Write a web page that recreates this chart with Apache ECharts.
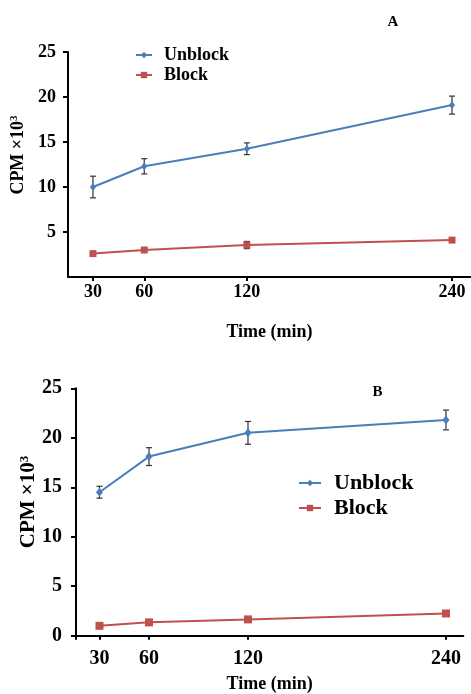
<!DOCTYPE html>
<html>
<head>
<meta charset="utf-8">
<script src="https://cdn.jsdelivr.net/npm/echarts@6/dist/echarts.min.js"></script>
<style>
  html, body { margin: 0; padding: 0; background: #fff; }
  #chart { width: 471px; height: 694px; }
</style>
</head>
<body>
<div id="chart"></div>
<script>
// Sampling times (min)
const times = [30, 60, 120, 240];
const timeTicks = [30, 60, 120, 240];

// Panel A: mean CPM (x10^3) and error
const unblockA = [10.0, 12.3, 14.25, 19.1];
const unblockAErr = [1.2, 0.85, 0.65, 1.0];
const blockA = [2.6, 3.0, 3.55, 4.1];
const blockAErr = [0.1, 0.15, 0.4, 0.15];
const yTicksA = [5, 10, 15, 20, 25];

// Panel B: mean CPM (x10^3) and error
const unblockB = [14.5, 18.1, 20.5, 21.8];
const unblockBErr = [0.6, 0.9, 1.15, 1.0];
const blockB = [1.0, 1.35, 1.65, 2.25];
const blockBErr = [0.15, 0.2, 0.15, 0.15];
const yTicksB = [0, 5, 10, 15, 20, 25];

const serif = '"Liberation Serif", "Times New Roman", serif';
const blue = '#4a7ebb';
const red = '#c0504d';

function pairs(vals) { return times.map((t, i) => [t, vals[i]]); }
function errRanges(vals, errs) { return times.map((t, i) => [t, vals[i] - errs[i], vals[i] + errs[i]]); }

function renderErr(params, api) {
  const x = api.value(0);
  const lo = api.coord([x, api.value(1)]);
  const hi = api.coord([x, api.value(2)]);
  const cap = 3;
  const st = { stroke: '#333', lineWidth: 1.2 };
  return {
    type: 'group',
    children: [
      { type: 'line', shape: { x1: hi[0], y1: hi[1], x2: lo[0], y2: lo[1] }, style: st },
      { type: 'line', shape: { x1: hi[0] - cap, y1: hi[1], x2: hi[0] + cap, y2: hi[1] }, style: st },
      { type: 'line', shape: { x1: lo[0] - cap, y1: lo[1], x2: lo[0] + cap, y2: lo[1] }, style: st }
    ]
  };
}

function xAxisCfg(idx, min, max, fontSize, margin, nameGap) {
  return {
    type: 'value', gridIndex: idx, min: min, max: max,
    name: 'Time (min)', nameLocation: 'middle', nameGap: nameGap,
    nameTextStyle: { fontFamily: serif, fontWeight: 'bold', fontSize: 18, color: '#000' },
    axisLine: { show: true, lineStyle: { color: '#000', width: 2 } },
    axisTick: { show: true, customValues: timeTicks, length: 4, lineStyle: { color: '#000', width: 2 } },
    axisLabel: { customValues: timeTicks, margin: margin, fontFamily: serif, fontWeight: 'bold', fontSize: fontSize, color: '#000' },
    splitLine: { show: false }
  };
}

function yAxisCfg(idx, min, ticks, fontSize, margin) {
  return {
    type: 'value', gridIndex: idx, min: min, max: 25,
    axisLine: { show: true, lineStyle: { color: '#000', width: 2 } },
    axisTick: { show: true, customValues: ticks, length: 5, lineStyle: { color: '#000', width: 2 } },
    axisLabel: { customValues: ticks, margin: margin, fontFamily: serif, fontWeight: 'bold', fontSize: fontSize, color: '#000' },
    splitLine: { show: false }
  };
}

function lineSeries(name, vals, idx, color, symbol, size) {
  return {
    type: 'line', name: name, data: pairs(vals), xAxisIndex: idx, yAxisIndex: idx,
    symbol: symbol, symbolSize: size,
    lineStyle: { color: color, width: 2 },
    itemStyle: { color: color },
    z: 2
  };
}

// Error bars sit underneath the markers
function errSeries(vals, errs, idx) {
  return {
    type: 'custom', data: errRanges(vals, errs), xAxisIndex: idx, yAxisIndex: idx,
    encode: { x: 0, y: [1, 2] }, renderItem: renderErr, z: 1, silent: true
  };
}

function legendCfg(left, top, fontSize, lineHeight, itemWidth, pad) {
  return {
    orient: 'vertical', left: left, top: top, itemGap: 0,
    itemWidth: itemWidth, itemHeight: 8, selectedMode: false,
    data: ['Unblock', 'Block'],
    textStyle: { fontFamily: serif, fontWeight: 'bold', fontSize: fontSize, lineHeight: lineHeight, color: '#000', padding: [0, 0, 0, pad] }
  };
}

function yTitle(x, y, size, supSize) {
  return {
    type: 'text', x: x, y: y, rotation: Math.PI / 2,
    style: {
      text: 'CPM \u00d710{s|3}',
      fontFamily: serif, fontWeight: 'bold', fontSize: size, fill: '#000',
      align: 'center', verticalAlign: 'middle',
      rich: { s: { fontFamily: serif, fontWeight: 'bold', fontSize: supSize, verticalAlign: 'top', fill: '#000' } }
    }
  };
}

const chart = echarts.init(document.getElementById('chart'));
chart.setOption({
  backgroundColor: '#fff',
  animation: false,
  grid: [
    { left: 68, top: 52, width: 403, height: 225 },
    { left: 76, top: 388.3, width: 387.3, height: 253.4 }
  ],
  xAxis: [
    xAxisCfg(0, 15.4, 251.1, 18, 6, 46),
    xAxisCfg(1, 15.76, 250.5, 20, 10, 36)
  ],
  yAxis: [
    yAxisCfg(0, 0, yTicksA, 18, 12),
    yAxisCfg(1, -0.33, yTicksB, 20, 14)
  ],
  legend: [
    legendCfg(130, 40, 18, 20, 16, 7),
    legendCfg(293, 465.5, 22, 25, 22, 8)
  ],
  graphic: [
    yTitle(18, 155, 18, 11),
    yTitle(29, 502, 21, 13),
    { type: 'text', x: 393, y: 22, style: { text: 'A', fontFamily: serif, fontWeight: 'bold', fontSize: 15, fill: '#000', align: 'center', verticalAlign: 'middle' } },
    { type: 'text', x: 377.5, y: 392, style: { text: 'B', fontFamily: serif, fontWeight: 'bold', fontSize: 15, fill: '#000', align: 'center', verticalAlign: 'middle' } }
  ],
  series: [
    lineSeries('Unblock', unblockA, 0, blue, 'diamond', [6, 8]),
    lineSeries('Block', blockA, 0, red, 'rect', 7),
    errSeries(unblockA, unblockAErr, 0),
    errSeries(blockA, blockAErr, 0),
    lineSeries('Unblock', unblockB, 1, blue, 'diamond', [7, 9]),
    lineSeries('Block', blockB, 1, red, 'rect', 8),
    errSeries(unblockB, unblockBErr, 1),
    errSeries(blockB, blockBErr, 1)
  ]
});
</script>
</body>
</html>
